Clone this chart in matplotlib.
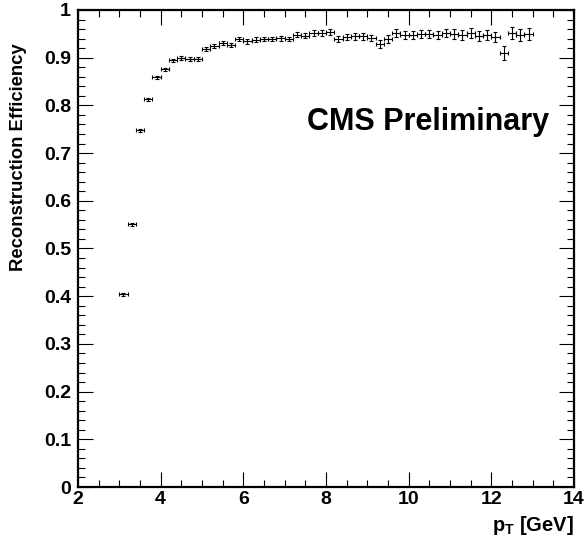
import numpy as np
import matplotlib
matplotlib.use("Agg")
import matplotlib.pyplot as plt
from matplotlib.ticker import MultipleLocator

plt.rcParams['font.family'] = ['Liberation Sans', 'DejaVu Sans']
plt.rcParams['font.weight'] = 'bold'
plt.rcParams['mathtext.fontset'] = 'custom'
plt.rcParams['mathtext.bf'] = 'Liberation Sans:bold'
plt.rcParams['mathtext.rm'] = 'Liberation Sans:bold'

# bin centres (GeV), bin width 0.2
pt = np.arange(3.1, 13.0, 0.2)

eff = [0.404, 0.551, 0.748, 0.813, 0.859, 0.876, 0.895, 0.899, 0.897, 0.897,
       0.918, 0.925, 0.931, 0.927, 0.939, 0.934, 0.938, 0.939, 0.939, 0.941,
       0.939, 0.948, 0.946, 0.952, 0.952, 0.954, 0.939, 0.943, 0.945, 0.945,
       0.941, 0.929, 0.939, 0.952, 0.948, 0.948, 0.950, 0.950, 0.948, 0.952,
       0.950, 0.948, 0.952, 0.945, 0.948, 0.943, 0.910, 0.952, 0.948, 0.950]

eff_err = [0.003, 0.003, 0.003, 0.003, 0.003, 0.003, 0.003, 0.004, 0.004, 0.004,
           0.004, 0.004, 0.004, 0.004, 0.004, 0.005, 0.005, 0.005, 0.005, 0.005,
           0.005, 0.005, 0.005, 0.006, 0.006, 0.006, 0.006, 0.006, 0.007, 0.007,
           0.007, 0.008, 0.008, 0.008, 0.008, 0.008, 0.008, 0.009, 0.009, 0.009,
           0.010, 0.010, 0.010, 0.010, 0.011, 0.011, 0.015, 0.012, 0.012, 0.012]

pt_err = 0.1

fig = plt.figure(figsize=(5.85, 5.53), dpi=100)
ax = fig.add_axes([78/585, 66/553, 496/585, 477/553])

ax.errorbar(pt, eff, xerr=pt_err, yerr=eff_err, fmt='none', ecolor='black',
            elinewidth=0.8, capsize=1.6, capthick=0.8)

ax.set_xlim(2, 14)
ax.set_ylim(0, 1)
ax.xaxis.set_major_locator(MultipleLocator(2))
ax.xaxis.set_minor_locator(MultipleLocator(0.5))
ax.yaxis.set_major_locator(MultipleLocator(0.1))
ax.yaxis.set_minor_locator(MultipleLocator(0.02))
ax.yaxis.set_major_formatter(plt.FuncFormatter(lambda v, p: '%g' % round(v, 2)))

ax.tick_params(which='both', direction='in', top=True, right=True, width=0.8)
ax.tick_params(which='major', length=10.5, labelsize=14, pad=3)
ax.tick_params(which='minor', length=5)
ax.tick_params(axis='y', which='major', pad=5)
for s in ax.spines.values():
    s.set_linewidth(1.6)
for lab in ax.get_xticklabels() + ax.get_yticklabels():
    lab.set_fontweight('bold')

ax.text(0.95, 0.748, 'CMS Preliminary', transform=ax.transAxes, ha='right',
        va='baseline', fontsize=22, fontweight='bold')

fig.text(574/585, 1 - 531/553, r'$\mathbf{p_{T}}$ [GeV]', ha='right', va='baseline',
         fontsize=14.5, fontweight='bold')
fig.text(19/585, 1 - 43/553, 'Reconstruction Efficiency', rotation=90, ha='center',
         va='top', fontsize=13.3, fontweight='bold')

fig.savefig('out.png', dpi=100)
